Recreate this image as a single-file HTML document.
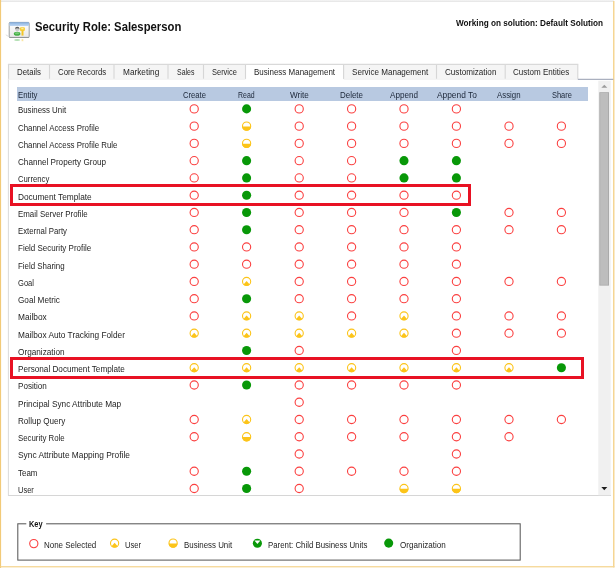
<!DOCTYPE html>
<html><head><meta charset="utf-8"><title>Security Role: Salesperson</title>
<style>
html,body{margin:0;padding:0;}
body{width:615px;height:568px;overflow:hidden;background:#fff;position:relative;font-family:"Liberation Sans",sans-serif;color:#1a1a1a;}
div{position:absolute;box-sizing:border-box;}
.t{white-space:nowrap;transform-origin:0 0;z-index:3;}
.frame{left:0;top:0;width:614.5px;height:567.5px;border-left:1.4px solid #f3cd7e;border-right:1.6px solid #f6dda6;border-bottom:1.6px solid #f6dda6;}
.topbar{left:1.4px;top:0;width:613px;height:2px;background:linear-gradient(#f3f3f3,#f0f0f0 55%,#dedede);}
.tab{top:64px;height:15px;background:#f5f5f5;border:1px solid #dadada;border-bottom:none;}
.tab.sel{background:#fff;height:17px;z-index:2;}
.tabline{left:8.5px;top:79px;width:570px;height:1px;background:#e6e6e6;}
.tabline2{left:578px;top:78.8px;width:35.6px;height:1.3px;background:#aab0bf;}
.panelL{left:8.5px;top:79px;width:1px;height:417px;background:#e3e3e3;}
.panelB{left:8px;top:495px;width:603px;height:1px;background:#d6d6d6;}
.hdr{left:16.5px;top:87.1px;width:571.5px;height:13.8px;background:#b8c9e1;}
.red{border:3px solid #e81123;}
.track{left:598.2px;top:80.6px;width:12.3px;height:414.6px;background:#f0f0f0;}
.thumb{left:599.2px;top:92.2px;width:9.8px;height:193.4px;background:#bcbcbc;border:1px solid #a8a8a8;}
.key{left:17.6px;top:524.2px;width:503px;height:35.8px;border:1px solid #555;}
.keyt{left:26.5px;top:520px;background:#fff;width:19.5px;height:9px;}
svg{position:absolute;left:0;top:0;}
</style></head><body>
<div class="topbar"></div>
<div class="panelB"></div>
<div class="hdr"></div>
<svg width="615" height="568" viewBox="0 0 615 568" style="z-index:1">
<defs>
<linearGradient id="tb" x1="0" y1="0" x2="0" y2="1"><stop offset="0" stop-color="#80abdc"/><stop offset="0.5" stop-color="#a3c4ea"/><stop offset="1" stop-color="#bcd5f0"/></linearGradient>
<filter id="blur1" x="-20%" y="-20%" width="140%" height="140%"><feGaussianBlur stdDeviation="0.35"/></filter>
<linearGradient id="wb" x1="0" y1="0" x2="0" y2="1"><stop offset="0" stop-color="#ffffff"/><stop offset="1" stop-color="#e8e8e8"/></linearGradient>
</defs>
<rect x="0" y="0" width="1.1" height="568" fill="#f2ca78"/>
<rect x="613.0" y="1" width="1.5" height="566.4" fill="#f5d694"/>
<rect x="0.6" y="566.1" width="613.9" height="1.3" fill="#f5d694"/>
<rect x="17.8" y="523.8" width="502.4" height="36.3" fill="none" stroke="#5a5a5a" stroke-width="1.05"/>
<rect x="26.3" y="520" width="19.8" height="8" fill="#fff"/>
<rect x="598.3" y="80.7" width="12.4" height="414.5" fill="#f0f0f0"/>
<rect x="599.3" y="92.2" width="9.7" height="193.4" fill="#a9a9a9"/>
<rect x="600.2" y="93" width="7.9" height="191.8" fill="#bdbdbd"/>
<rect x="8.5" y="64.4" width="41.0" height="14.6" fill="#f5f5f5"/><path d="M8.5 64.4 V79" stroke="#d6d6d6" stroke-width="1.1"/><rect x="49.5" y="64.4" width="64.5" height="14.6" fill="#f5f5f5"/><path d="M49.5 64.4 V79" stroke="#d6d6d6" stroke-width="1.1"/><rect x="114" y="64.4" width="54" height="14.6" fill="#f5f5f5"/><path d="M114 64.4 V79" stroke="#d6d6d6" stroke-width="1.1"/><rect x="168" y="64.4" width="35.5" height="14.6" fill="#f5f5f5"/><path d="M168 64.4 V79" stroke="#d6d6d6" stroke-width="1.1"/><rect x="203.5" y="64.4" width="42.0" height="14.6" fill="#f5f5f5"/><path d="M203.5 64.4 V79" stroke="#d6d6d6" stroke-width="1.1"/><rect x="245.5" y="64.4" width="98.10000000000002" height="14.6" fill="#ffffff"/><path d="M245.5 64.4 V79" stroke="#d6d6d6" stroke-width="1.1"/><rect x="343.6" y="64.4" width="92.89999999999998" height="14.6" fill="#f5f5f5"/><path d="M343.6 64.4 V79" stroke="#d6d6d6" stroke-width="1.1"/><rect x="436.5" y="64.4" width="68.69999999999999" height="14.6" fill="#f5f5f5"/><path d="M436.5 64.4 V79" stroke="#d6d6d6" stroke-width="1.1"/><rect x="505.2" y="64.4" width="72.59999999999997" height="14.6" fill="#f5f5f5"/><path d="M505.2 64.4 V79" stroke="#d6d6d6" stroke-width="1.1"/>
<path d="M577.8 64.4 V79" stroke="#d6d6d6" stroke-width="1.1"/>
<path d="M7.9 64.4 H578.3" stroke="#d9d9d9" stroke-width="1.1"/>
<path d="M8.4 79 V495.7" stroke="#dadada" stroke-width="1"/>
<path d="M8.4 79.2 H245.5 M343.6 79.2 H577.8" stroke="#f0f0f0" stroke-width="1"/>
<path d="M577.8 79.3 H613.4" stroke="#aab0bf" stroke-width="1.3"/>
<g filter="url(#blur1)">
<rect x="9.2" y="22.4" width="20" height="15.1" rx="0.9" fill="url(#wb)" stroke="#8f9599" stroke-width="0.9"/>
<rect x="9.4" y="22.3" width="19.6" height="3.6" rx="0.6" fill="url(#tb)"/>
<path d="M9.3 37.4 H29.1" stroke="#8e9294" stroke-width="0.8"/>
<circle cx="17.3" cy="29.2" r="2.15" fill="#c9c9c9"/>
<path d="M15.1 29 A2.2 2.2 0 0 1 19.5 29 Q17.3 27.4 15.1 29 Z" fill="#5a5a5a"/>
<ellipse cx="17.1" cy="33.7" rx="3.3" ry="2.0" fill="#45b045"/>
<ellipse cx="17.1" cy="33.2" rx="2.2" ry="1.0" fill="#8fd68f" opacity="0.7"/>
<rect x="19.9" y="27.2" width="5" height="3.9" rx="1.1" fill="#f7cf3a"/>
<rect x="21.2" y="28.1" width="2.4" height="1.1" rx="0.5" fill="#fdeea0"/>
<rect x="21.5" y="30.6" width="2.0" height="5.0" fill="#f3c62c"/>
<ellipse cx="17.1" cy="40.1" rx="3.0" ry="1.0" fill="#3fae3f" opacity="0.4"/>
<rect x="21.6" y="39.1" width="1.7" height="2.1" fill="#f3c62c" opacity="0.45"/>
<path d="M5.8 34.8 L8.8 36.6" stroke="#d4d4d4" stroke-width="0.8"/>
</g>
<circle cx="194.20" cy="108.90" r="4.1" fill="#fff" stroke="#fb4040" stroke-width="1.1"/><circle cx="246.60" cy="108.90" r="4.55" fill="#089808"/><circle cx="299.20" cy="108.90" r="4.1" fill="#fff" stroke="#fb4040" stroke-width="1.1"/><circle cx="351.60" cy="108.90" r="4.1" fill="#fff" stroke="#fb4040" stroke-width="1.1"/><circle cx="404.00" cy="108.90" r="4.1" fill="#fff" stroke="#fb4040" stroke-width="1.1"/><circle cx="456.40" cy="108.90" r="4.1" fill="#fff" stroke="#fb4040" stroke-width="1.1"/><circle cx="194.20" cy="126.16" r="4.1" fill="#fff" stroke="#fb4040" stroke-width="1.1"/><circle cx="246.60" cy="126.16" r="4.1" fill="#fff" stroke="#fcc419" stroke-width="1.1"/><path d="M242.20 126.45 A4.4 4.4 0 0 0 251.00 126.45 Z" fill="#fcc419"/><circle cx="299.20" cy="126.16" r="4.1" fill="#fff" stroke="#fb4040" stroke-width="1.1"/><circle cx="351.60" cy="126.16" r="4.1" fill="#fff" stroke="#fb4040" stroke-width="1.1"/><circle cx="404.00" cy="126.16" r="4.1" fill="#fff" stroke="#fb4040" stroke-width="1.1"/><circle cx="456.40" cy="126.16" r="4.1" fill="#fff" stroke="#fb4040" stroke-width="1.1"/><circle cx="509.00" cy="126.16" r="4.1" fill="#fff" stroke="#fb4040" stroke-width="1.1"/><circle cx="561.40" cy="126.16" r="4.1" fill="#fff" stroke="#fb4040" stroke-width="1.1"/><circle cx="194.20" cy="143.41" r="4.1" fill="#fff" stroke="#fb4040" stroke-width="1.1"/><circle cx="246.60" cy="143.41" r="4.1" fill="#fff" stroke="#fcc419" stroke-width="1.1"/><path d="M242.20 143.71 A4.4 4.4 0 0 0 251.00 143.71 Z" fill="#fcc419"/><circle cx="299.20" cy="143.41" r="4.1" fill="#fff" stroke="#fb4040" stroke-width="1.1"/><circle cx="351.60" cy="143.41" r="4.1" fill="#fff" stroke="#fb4040" stroke-width="1.1"/><circle cx="404.00" cy="143.41" r="4.1" fill="#fff" stroke="#fb4040" stroke-width="1.1"/><circle cx="456.40" cy="143.41" r="4.1" fill="#fff" stroke="#fb4040" stroke-width="1.1"/><circle cx="509.00" cy="143.41" r="4.1" fill="#fff" stroke="#fb4040" stroke-width="1.1"/><circle cx="561.40" cy="143.41" r="4.1" fill="#fff" stroke="#fb4040" stroke-width="1.1"/><circle cx="194.20" cy="160.67" r="4.1" fill="#fff" stroke="#fb4040" stroke-width="1.1"/><circle cx="246.60" cy="160.67" r="4.55" fill="#089808"/><circle cx="299.20" cy="160.67" r="4.1" fill="#fff" stroke="#fb4040" stroke-width="1.1"/><circle cx="351.60" cy="160.67" r="4.1" fill="#fff" stroke="#fb4040" stroke-width="1.1"/><circle cx="404.00" cy="160.67" r="4.55" fill="#089808"/><circle cx="456.40" cy="160.67" r="4.55" fill="#089808"/><circle cx="194.20" cy="177.92" r="4.1" fill="#fff" stroke="#fb4040" stroke-width="1.1"/><circle cx="246.60" cy="177.92" r="4.55" fill="#089808"/><circle cx="299.20" cy="177.92" r="4.1" fill="#fff" stroke="#fb4040" stroke-width="1.1"/><circle cx="351.60" cy="177.92" r="4.1" fill="#fff" stroke="#fb4040" stroke-width="1.1"/><circle cx="404.00" cy="177.92" r="4.55" fill="#089808"/><circle cx="456.40" cy="177.92" r="4.55" fill="#089808"/><circle cx="194.20" cy="195.18" r="4.1" fill="#fff" stroke="#fb4040" stroke-width="1.1"/><circle cx="246.60" cy="195.18" r="4.55" fill="#089808"/><circle cx="299.20" cy="195.18" r="4.1" fill="#fff" stroke="#fb4040" stroke-width="1.1"/><circle cx="351.60" cy="195.18" r="4.1" fill="#fff" stroke="#fb4040" stroke-width="1.1"/><circle cx="404.00" cy="195.18" r="4.1" fill="#fff" stroke="#fb4040" stroke-width="1.1"/><circle cx="456.40" cy="195.18" r="4.1" fill="#fff" stroke="#fb4040" stroke-width="1.1"/><circle cx="194.20" cy="212.43" r="4.1" fill="#fff" stroke="#fb4040" stroke-width="1.1"/><circle cx="246.60" cy="212.43" r="4.55" fill="#089808"/><circle cx="299.20" cy="212.43" r="4.1" fill="#fff" stroke="#fb4040" stroke-width="1.1"/><circle cx="351.60" cy="212.43" r="4.1" fill="#fff" stroke="#fb4040" stroke-width="1.1"/><circle cx="404.00" cy="212.43" r="4.1" fill="#fff" stroke="#fb4040" stroke-width="1.1"/><circle cx="456.40" cy="212.43" r="4.55" fill="#089808"/><circle cx="509.00" cy="212.43" r="4.1" fill="#fff" stroke="#fb4040" stroke-width="1.1"/><circle cx="561.40" cy="212.43" r="4.1" fill="#fff" stroke="#fb4040" stroke-width="1.1"/><circle cx="194.20" cy="229.69" r="4.1" fill="#fff" stroke="#fb4040" stroke-width="1.1"/><circle cx="246.60" cy="229.69" r="4.55" fill="#089808"/><circle cx="299.20" cy="229.69" r="4.1" fill="#fff" stroke="#fb4040" stroke-width="1.1"/><circle cx="351.60" cy="229.69" r="4.1" fill="#fff" stroke="#fb4040" stroke-width="1.1"/><circle cx="404.00" cy="229.69" r="4.1" fill="#fff" stroke="#fb4040" stroke-width="1.1"/><circle cx="456.40" cy="229.69" r="4.1" fill="#fff" stroke="#fb4040" stroke-width="1.1"/><circle cx="509.00" cy="229.69" r="4.1" fill="#fff" stroke="#fb4040" stroke-width="1.1"/><circle cx="561.40" cy="229.69" r="4.1" fill="#fff" stroke="#fb4040" stroke-width="1.1"/><circle cx="194.20" cy="246.94" r="4.1" fill="#fff" stroke="#fb4040" stroke-width="1.1"/><circle cx="246.60" cy="246.94" r="4.1" fill="#fff" stroke="#fb4040" stroke-width="1.1"/><circle cx="299.20" cy="246.94" r="4.1" fill="#fff" stroke="#fb4040" stroke-width="1.1"/><circle cx="351.60" cy="246.94" r="4.1" fill="#fff" stroke="#fb4040" stroke-width="1.1"/><circle cx="404.00" cy="246.94" r="4.1" fill="#fff" stroke="#fb4040" stroke-width="1.1"/><circle cx="456.40" cy="246.94" r="4.1" fill="#fff" stroke="#fb4040" stroke-width="1.1"/><circle cx="194.20" cy="264.19" r="4.1" fill="#fff" stroke="#fb4040" stroke-width="1.1"/><circle cx="246.60" cy="264.19" r="4.1" fill="#fff" stroke="#fb4040" stroke-width="1.1"/><circle cx="299.20" cy="264.19" r="4.1" fill="#fff" stroke="#fb4040" stroke-width="1.1"/><circle cx="351.60" cy="264.19" r="4.1" fill="#fff" stroke="#fb4040" stroke-width="1.1"/><circle cx="404.00" cy="264.19" r="4.1" fill="#fff" stroke="#fb4040" stroke-width="1.1"/><circle cx="456.40" cy="264.19" r="4.1" fill="#fff" stroke="#fb4040" stroke-width="1.1"/><circle cx="194.20" cy="281.45" r="4.1" fill="#fff" stroke="#fb4040" stroke-width="1.1"/><circle cx="246.60" cy="281.45" r="4.1" fill="#fff" stroke="#fcc419" stroke-width="1.1"/><path d="M246.60 281.05 L249.70 284.55 A4.4 4.4 0 0 1 243.50 284.55 Z" fill="#fcc419"/><circle cx="299.20" cy="281.45" r="4.1" fill="#fff" stroke="#fb4040" stroke-width="1.1"/><circle cx="351.60" cy="281.45" r="4.1" fill="#fff" stroke="#fb4040" stroke-width="1.1"/><circle cx="404.00" cy="281.45" r="4.1" fill="#fff" stroke="#fb4040" stroke-width="1.1"/><circle cx="456.40" cy="281.45" r="4.1" fill="#fff" stroke="#fb4040" stroke-width="1.1"/><circle cx="509.00" cy="281.45" r="4.1" fill="#fff" stroke="#fb4040" stroke-width="1.1"/><circle cx="561.40" cy="281.45" r="4.1" fill="#fff" stroke="#fb4040" stroke-width="1.1"/><circle cx="194.20" cy="298.70" r="4.1" fill="#fff" stroke="#fb4040" stroke-width="1.1"/><circle cx="246.60" cy="298.70" r="4.55" fill="#089808"/><circle cx="299.20" cy="298.70" r="4.1" fill="#fff" stroke="#fb4040" stroke-width="1.1"/><circle cx="351.60" cy="298.70" r="4.1" fill="#fff" stroke="#fb4040" stroke-width="1.1"/><circle cx="404.00" cy="298.70" r="4.1" fill="#fff" stroke="#fb4040" stroke-width="1.1"/><circle cx="456.40" cy="298.70" r="4.1" fill="#fff" stroke="#fb4040" stroke-width="1.1"/><circle cx="194.20" cy="315.96" r="4.1" fill="#fff" stroke="#fb4040" stroke-width="1.1"/><circle cx="246.60" cy="315.96" r="4.1" fill="#fff" stroke="#fcc419" stroke-width="1.1"/><path d="M246.60 315.56 L249.70 319.06 A4.4 4.4 0 0 1 243.50 319.06 Z" fill="#fcc419"/><circle cx="299.20" cy="315.96" r="4.1" fill="#fff" stroke="#fcc419" stroke-width="1.1"/><path d="M299.20 315.56 L302.30 319.06 A4.4 4.4 0 0 1 296.10 319.06 Z" fill="#fcc419"/><circle cx="351.60" cy="315.96" r="4.1" fill="#fff" stroke="#fb4040" stroke-width="1.1"/><circle cx="404.00" cy="315.96" r="4.1" fill="#fff" stroke="#fcc419" stroke-width="1.1"/><path d="M404.00 315.56 L407.10 319.06 A4.4 4.4 0 0 1 400.90 319.06 Z" fill="#fcc419"/><circle cx="456.40" cy="315.96" r="4.1" fill="#fff" stroke="#fb4040" stroke-width="1.1"/><circle cx="509.00" cy="315.96" r="4.1" fill="#fff" stroke="#fb4040" stroke-width="1.1"/><circle cx="561.40" cy="315.96" r="4.1" fill="#fff" stroke="#fb4040" stroke-width="1.1"/><circle cx="194.20" cy="333.22" r="4.1" fill="#fff" stroke="#fcc419" stroke-width="1.1"/><path d="M194.20 332.82 L197.30 336.32 A4.4 4.4 0 0 1 191.10 336.32 Z" fill="#fcc419"/><circle cx="246.60" cy="333.22" r="4.1" fill="#fff" stroke="#fcc419" stroke-width="1.1"/><path d="M246.60 332.82 L249.70 336.32 A4.4 4.4 0 0 1 243.50 336.32 Z" fill="#fcc419"/><circle cx="299.20" cy="333.22" r="4.1" fill="#fff" stroke="#fcc419" stroke-width="1.1"/><path d="M299.20 332.82 L302.30 336.32 A4.4 4.4 0 0 1 296.10 336.32 Z" fill="#fcc419"/><circle cx="351.60" cy="333.22" r="4.1" fill="#fff" stroke="#fcc419" stroke-width="1.1"/><path d="M351.60 332.82 L354.70 336.32 A4.4 4.4 0 0 1 348.50 336.32 Z" fill="#fcc419"/><circle cx="404.00" cy="333.22" r="4.1" fill="#fff" stroke="#fcc419" stroke-width="1.1"/><path d="M404.00 332.82 L407.10 336.32 A4.4 4.4 0 0 1 400.90 336.32 Z" fill="#fcc419"/><circle cx="456.40" cy="333.22" r="4.1" fill="#fff" stroke="#fb4040" stroke-width="1.1"/><circle cx="509.00" cy="333.22" r="4.1" fill="#fff" stroke="#fb4040" stroke-width="1.1"/><circle cx="561.40" cy="333.22" r="4.1" fill="#fff" stroke="#fb4040" stroke-width="1.1"/><circle cx="246.60" cy="350.47" r="4.55" fill="#089808"/><circle cx="299.20" cy="350.47" r="4.1" fill="#fff" stroke="#fb4040" stroke-width="1.1"/><circle cx="456.40" cy="350.47" r="4.1" fill="#fff" stroke="#fb4040" stroke-width="1.1"/><circle cx="194.20" cy="367.73" r="4.1" fill="#fff" stroke="#fcc419" stroke-width="1.1"/><path d="M194.20 367.33 L197.30 370.83 A4.4 4.4 0 0 1 191.10 370.83 Z" fill="#fcc419"/><circle cx="246.60" cy="367.73" r="4.1" fill="#fff" stroke="#fcc419" stroke-width="1.1"/><path d="M246.60 367.33 L249.70 370.83 A4.4 4.4 0 0 1 243.50 370.83 Z" fill="#fcc419"/><circle cx="299.20" cy="367.73" r="4.1" fill="#fff" stroke="#fcc419" stroke-width="1.1"/><path d="M299.20 367.33 L302.30 370.83 A4.4 4.4 0 0 1 296.10 370.83 Z" fill="#fcc419"/><circle cx="351.60" cy="367.73" r="4.1" fill="#fff" stroke="#fcc419" stroke-width="1.1"/><path d="M351.60 367.33 L354.70 370.83 A4.4 4.4 0 0 1 348.50 370.83 Z" fill="#fcc419"/><circle cx="404.00" cy="367.73" r="4.1" fill="#fff" stroke="#fcc419" stroke-width="1.1"/><path d="M404.00 367.33 L407.10 370.83 A4.4 4.4 0 0 1 400.90 370.83 Z" fill="#fcc419"/><circle cx="456.40" cy="367.73" r="4.1" fill="#fff" stroke="#fcc419" stroke-width="1.1"/><path d="M456.40 367.33 L459.50 370.83 A4.4 4.4 0 0 1 453.30 370.83 Z" fill="#fcc419"/><circle cx="509.00" cy="367.73" r="4.1" fill="#fff" stroke="#fcc419" stroke-width="1.1"/><path d="M509.00 367.33 L512.10 370.83 A4.4 4.4 0 0 1 505.90 370.83 Z" fill="#fcc419"/><circle cx="561.40" cy="367.73" r="4.55" fill="#089808"/><circle cx="194.20" cy="384.98" r="4.1" fill="#fff" stroke="#fb4040" stroke-width="1.1"/><circle cx="246.60" cy="384.98" r="4.55" fill="#089808"/><circle cx="299.20" cy="384.98" r="4.1" fill="#fff" stroke="#fb4040" stroke-width="1.1"/><circle cx="351.60" cy="384.98" r="4.1" fill="#fff" stroke="#fb4040" stroke-width="1.1"/><circle cx="404.00" cy="384.98" r="4.1" fill="#fff" stroke="#fb4040" stroke-width="1.1"/><circle cx="456.40" cy="384.98" r="4.1" fill="#fff" stroke="#fb4040" stroke-width="1.1"/><circle cx="299.20" cy="402.24" r="4.1" fill="#fff" stroke="#fb4040" stroke-width="1.1"/><circle cx="194.20" cy="419.49" r="4.1" fill="#fff" stroke="#fb4040" stroke-width="1.1"/><circle cx="246.60" cy="419.49" r="4.1" fill="#fff" stroke="#fcc419" stroke-width="1.1"/><path d="M246.60 419.09 L249.70 422.59 A4.4 4.4 0 0 1 243.50 422.59 Z" fill="#fcc419"/><circle cx="299.20" cy="419.49" r="4.1" fill="#fff" stroke="#fb4040" stroke-width="1.1"/><circle cx="351.60" cy="419.49" r="4.1" fill="#fff" stroke="#fb4040" stroke-width="1.1"/><circle cx="404.00" cy="419.49" r="4.1" fill="#fff" stroke="#fb4040" stroke-width="1.1"/><circle cx="456.40" cy="419.49" r="4.1" fill="#fff" stroke="#fb4040" stroke-width="1.1"/><circle cx="509.00" cy="419.49" r="4.1" fill="#fff" stroke="#fb4040" stroke-width="1.1"/><circle cx="561.40" cy="419.49" r="4.1" fill="#fff" stroke="#fb4040" stroke-width="1.1"/><circle cx="194.20" cy="436.75" r="4.1" fill="#fff" stroke="#fb4040" stroke-width="1.1"/><circle cx="246.60" cy="436.75" r="4.1" fill="#fff" stroke="#fcc419" stroke-width="1.1"/><path d="M242.20 437.05 A4.4 4.4 0 0 0 251.00 437.05 Z" fill="#fcc419"/><circle cx="299.20" cy="436.75" r="4.1" fill="#fff" stroke="#fb4040" stroke-width="1.1"/><circle cx="351.60" cy="436.75" r="4.1" fill="#fff" stroke="#fb4040" stroke-width="1.1"/><circle cx="404.00" cy="436.75" r="4.1" fill="#fff" stroke="#fb4040" stroke-width="1.1"/><circle cx="456.40" cy="436.75" r="4.1" fill="#fff" stroke="#fb4040" stroke-width="1.1"/><circle cx="509.00" cy="436.75" r="4.1" fill="#fff" stroke="#fb4040" stroke-width="1.1"/><circle cx="299.20" cy="454.00" r="4.1" fill="#fff" stroke="#fb4040" stroke-width="1.1"/><circle cx="456.40" cy="454.00" r="4.1" fill="#fff" stroke="#fb4040" stroke-width="1.1"/><circle cx="194.20" cy="471.25" r="4.1" fill="#fff" stroke="#fb4040" stroke-width="1.1"/><circle cx="246.60" cy="471.25" r="4.55" fill="#089808"/><circle cx="299.20" cy="471.25" r="4.1" fill="#fff" stroke="#fb4040" stroke-width="1.1"/><circle cx="351.60" cy="471.25" r="4.1" fill="#fff" stroke="#fb4040" stroke-width="1.1"/><circle cx="404.00" cy="471.25" r="4.1" fill="#fff" stroke="#fb4040" stroke-width="1.1"/><circle cx="456.40" cy="471.25" r="4.1" fill="#fff" stroke="#fb4040" stroke-width="1.1"/><circle cx="194.20" cy="488.51" r="4.1" fill="#fff" stroke="#fb4040" stroke-width="1.1"/><circle cx="246.60" cy="488.51" r="4.55" fill="#089808"/><circle cx="299.20" cy="488.51" r="4.1" fill="#fff" stroke="#fb4040" stroke-width="1.1"/><circle cx="404.00" cy="488.51" r="4.1" fill="#fff" stroke="#fcc419" stroke-width="1.1"/><path d="M399.60 488.81 A4.4 4.4 0 0 0 408.40 488.81 Z" fill="#fcc419"/><circle cx="456.40" cy="488.51" r="4.1" fill="#fff" stroke="#fcc419" stroke-width="1.1"/><path d="M452.00 488.81 A4.4 4.4 0 0 0 460.80 488.81 Z" fill="#fcc419"/><circle cx="33.80" cy="543.60" r="4.1" fill="#fff" stroke="#fb4040" stroke-width="1.1"/><circle cx="114.60" cy="543.20" r="4.1" fill="#fff" stroke="#fcc419" stroke-width="1.1"/><path d="M114.60 542.80 L117.70 546.30 A4.4 4.4 0 0 1 111.50 546.30 Z" fill="#fcc419"/><circle cx="173.10" cy="543.10" r="4.1" fill="#fff" stroke="#fcc419" stroke-width="1.1"/><path d="M168.70 543.40 A4.4 4.4 0 0 0 177.50 543.40 Z" fill="#fcc419"/><circle cx="257.40" cy="543.20" r="4.55" fill="#089808"/><path d="M257.40 544.00 L254.40 540.60 L260.40 540.60 Z" fill="#fff"/><circle cx="388.70" cy="543.10" r="4.55" fill="#089808"/>
<path d="M601.3 87.8 L604.3 84.7 L607.3 87.8 Z" fill="#9c9c9c"/>
<path d="M601.3 487.1 L607.3 487.1 L604.3 490.2 Z" fill="#1c1c1c"/>
</svg>
<div class="t" style="left:18.1px;top:106.35px;font-size:8.8px;line-height:8.8px;color:#1e1e1e;transform:scaleX(0.8941);">Business Unit</div><div class="t" style="left:18.1px;top:123.61px;font-size:8.8px;line-height:8.8px;color:#1e1e1e;transform:scaleX(0.8964);">Channel Access Profile</div><div class="t" style="left:18.1px;top:140.86px;font-size:8.8px;line-height:8.8px;color:#1e1e1e;transform:scaleX(0.8964);">Channel Access Profile Rule</div><div class="t" style="left:18.1px;top:158.12px;font-size:8.8px;line-height:8.8px;color:#1e1e1e;transform:scaleX(0.9228);">Channel Property Group</div><div class="t" style="left:18.1px;top:175.37px;font-size:8.8px;line-height:8.8px;color:#1e1e1e;transform:scaleX(0.8771);">Currency</div><div class="t" style="left:18.1px;top:192.63px;font-size:8.8px;line-height:8.8px;color:#1e1e1e;transform:scaleX(0.9439);">Document Template</div><div class="t" style="left:18.1px;top:209.88px;font-size:8.8px;line-height:8.8px;color:#1e1e1e;transform:scaleX(0.8966);">Email Server Profile</div><div class="t" style="left:18.1px;top:227.14px;font-size:8.8px;line-height:8.8px;color:#1e1e1e;transform:scaleX(0.8869);">External Party</div><div class="t" style="left:18.1px;top:244.39px;font-size:8.8px;line-height:8.8px;color:#1e1e1e;transform:scaleX(0.9074);">Field Security Profile</div><div class="t" style="left:18.1px;top:261.65px;font-size:8.8px;line-height:8.8px;color:#1e1e1e;transform:scaleX(0.8989);">Field Sharing</div><div class="t" style="left:18.1px;top:278.90px;font-size:8.8px;line-height:8.8px;color:#1e1e1e;transform:scaleX(0.8605);">Goal</div><div class="t" style="left:18.1px;top:296.16px;font-size:8.8px;line-height:8.8px;color:#1e1e1e;transform:scaleX(0.9314);">Goal Metric</div><div class="t" style="left:18.1px;top:313.41px;font-size:8.8px;line-height:8.8px;color:#1e1e1e;transform:scaleX(0.9501);">Mailbox</div><div class="t" style="left:18.1px;top:330.67px;font-size:8.8px;line-height:8.8px;color:#1e1e1e;transform:scaleX(0.9424);">Mailbox Auto Tracking Folder</div><div class="t" style="left:18.1px;top:347.92px;font-size:8.8px;line-height:8.8px;color:#1e1e1e;transform:scaleX(0.9340);">Organization</div><div class="t" style="left:18.1px;top:365.18px;font-size:8.8px;line-height:8.8px;color:#1e1e1e;transform:scaleX(0.9275);">Personal Document Template</div><div class="t" style="left:18.1px;top:382.43px;font-size:8.8px;line-height:8.8px;color:#1e1e1e;transform:scaleX(0.9202);">Position</div><div class="t" style="left:18.1px;top:399.69px;font-size:8.8px;line-height:8.8px;color:#1e1e1e;transform:scaleX(0.9380);">Principal Sync Attribute Map</div><div class="t" style="left:18.1px;top:416.94px;font-size:8.8px;line-height:8.8px;color:#1e1e1e;transform:scaleX(0.9212);">Rollup Query</div><div class="t" style="left:18.1px;top:434.20px;font-size:8.8px;line-height:8.8px;color:#1e1e1e;transform:scaleX(0.8905);">Security Role</div><div class="t" style="left:18.1px;top:451.45px;font-size:8.8px;line-height:8.8px;color:#1e1e1e;transform:scaleX(0.9496);">Sync Attribute Mapping Profile</div><div class="t" style="left:18.1px;top:468.71px;font-size:8.8px;line-height:8.8px;color:#1e1e1e;transform:scaleX(0.9063);">Team</div><div class="t" style="left:18.1px;top:485.96px;font-size:8.8px;line-height:8.8px;color:#1e1e1e;transform:scaleX(0.8505);">User</div><div class="t" style="left:17.1px;top:67.75px;font-size:8.8px;line-height:8.8px;color:#262626;transform:scaleX(0.8925);">Details</div><div class="t" style="left:57.7px;top:67.75px;font-size:8.8px;line-height:8.8px;color:#262626;transform:scaleX(0.8880);">Core Records</div><div class="t" style="left:122.8px;top:67.75px;font-size:8.8px;line-height:8.8px;color:#262626;transform:scaleX(0.9398);">Marketing</div><div class="t" style="left:176.8px;top:67.75px;font-size:8.8px;line-height:8.8px;color:#262626;transform:scaleX(0.7903);">Sales</div><div class="t" style="left:211.5px;top:67.75px;font-size:8.8px;line-height:8.8px;color:#262626;transform:scaleX(0.8486);">Service</div><div class="t" style="left:253.9px;top:67.75px;font-size:8.8px;line-height:8.8px;color:#262626;transform:scaleX(0.9061);">Business Management</div><div class="t" style="left:351.6px;top:67.75px;font-size:8.8px;line-height:8.8px;color:#262626;transform:scaleX(0.9179);">Service Management</div><div class="t" style="left:444.9px;top:67.75px;font-size:8.8px;line-height:8.8px;color:#262626;transform:scaleX(0.9220);">Customization</div><div class="t" style="left:513.4px;top:67.75px;font-size:8.8px;line-height:8.8px;color:#262626;transform:scaleX(0.9122);">Custom Entities</div><div class="t" style="left:18.3px;top:90.65px;font-size:8.8px;line-height:8.8px;color:#1b2638;transform:scaleX(0.8857);">Entity</div><div class="t" style="left:182.6px;top:90.65px;font-size:8.8px;line-height:8.8px;color:#1b2638;transform:scaleX(0.8672);">Create</div><div class="t" style="left:238.0px;top:90.65px;font-size:8.8px;line-height:8.8px;color:#1b2638;transform:scaleX(0.7893);">Read</div><div class="t" style="left:289.9px;top:90.65px;font-size:8.8px;line-height:8.8px;color:#1b2638;transform:scaleX(0.9276);">Write</div><div class="t" style="left:340.2px;top:90.65px;font-size:8.8px;line-height:8.8px;color:#1b2638;transform:scaleX(0.9042);">Delete</div><div class="t" style="left:390.1px;top:90.65px;font-size:8.8px;line-height:8.8px;color:#1b2638;transform:scaleX(0.9228);">Append</div><div class="t" style="left:436.9px;top:90.65px;font-size:8.8px;line-height:8.8px;color:#1b2638;transform:scaleX(0.9497);">Append To</div><div class="t" style="left:497.4px;top:90.65px;font-size:8.8px;line-height:8.8px;color:#1b2638;transform:scaleX(0.8899);">Assign</div><div class="t" style="left:551.6px;top:90.65px;font-size:8.8px;line-height:8.8px;color:#1b2638;transform:scaleX(0.8474);">Share</div><div class="t" style="left:34.8px;top:19.60px;font-size:13.0px;line-height:13.0px;color:#111;transform:scaleX(0.8691);font-weight:bold;">Security Role: Salesperson</div><div class="t" style="left:455.5px;top:18.89px;font-size:8.4px;line-height:8.4px;color:#111;transform:scaleX(0.9792);font-weight:bold;">Working on solution: Default Solution</div><div class="t" style="left:29.2px;top:519.61px;font-size:9.2px;line-height:9.2px;color:#111;transform:scaleX(0.8067);font-weight:bold;">Key</div><div class="t" style="left:44.2px;top:540.65px;font-size:8.8px;line-height:8.8px;color:#1e1e1e;transform:scaleX(0.9061);">None Selected</div><div class="t" style="left:125.0px;top:540.65px;font-size:8.8px;line-height:8.8px;color:#1e1e1e;transform:scaleX(0.8612);">User</div><div class="t" style="left:183.6px;top:540.65px;font-size:8.8px;line-height:8.8px;color:#1e1e1e;transform:scaleX(0.8960);">Business Unit</div><div class="t" style="left:267.9px;top:540.65px;font-size:8.8px;line-height:8.8px;color:#1e1e1e;transform:scaleX(0.8907);">Parent: Child Business Units</div><div class="t" style="left:399.5px;top:540.65px;font-size:8.8px;line-height:8.8px;color:#1e1e1e;transform:scaleX(0.9180);">Organization</div>
<div class="red" style="left:10px;top:184.3px;width:461.2px;height:21.5px;z-index:4"></div>
<div class="red" style="left:10px;top:357.4px;width:574.2px;height:21.3px;z-index:4"></div>
</body></html>
